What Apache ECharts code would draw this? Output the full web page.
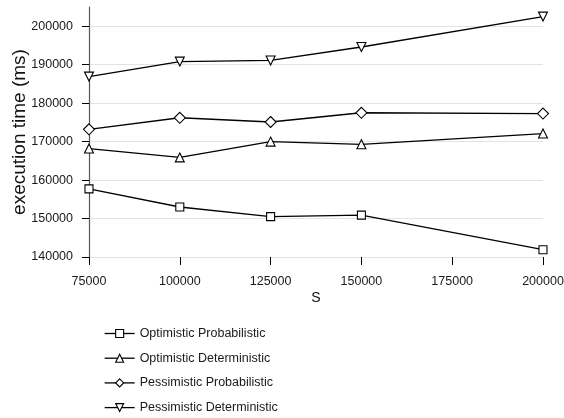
<!DOCTYPE html>
<html>
<head>
<meta charset="utf-8">
<script src="https://cdn.jsdelivr.net/npm/echarts@6/dist/echarts.min.js"></script>
<style>html,body{margin:0;padding:0;background:#fff}#c{width:564px;height:418px}</style>
</head>
<body>
<div id="c"></div>
<script>
const xValues = [75000, 100000, 125000, 150000, 200000];
const xTicks = [75000, 100000, 125000, 150000, 175000, 200000];
const yTicks = [140000, 150000, 160000, 170000, 180000, 190000, 200000];
const optimisticProbabilistic = [157700, 153000, 150500, 150900, 141900];
const optimisticDeterministic = [168200, 165900, 170000, 169300, 172100];
const pessimisticProbabilistic = [173200, 176200, 175100, 177500, 177300];
const pessimisticDeterministic = [186900, 190800, 191100, 194600, 202500];
const seriesNames = ['Optimistic Probabilistic', 'Optimistic Deterministic', 'Pessimistic Probabilistic', 'Pessimistic Deterministic'];
const FONT = '"Liberation Sans", Arial, Helvetica, sans-serif';

function pairs(vals) { return xValues.map((x, i) => [x, vals[i]]); }
function mk(name, vals, symbol, size, rotate) {
  return {
    name, type: 'line', data: pairs(vals), symbol, symbolSize: size, symbolRotate: rotate || 0,
    showAllSymbol: true,
    lineStyle: { color: '#000', width: 1.3 },
    itemStyle: { color: '#fff', borderColor: '#000', borderWidth: 1.1 },
    emphasis: { disabled: true }, animation: false, z: 3
  };
}
const chart = echarts.init(document.getElementById('c'), null, { renderer: 'canvas' });
chart.setOption({
  animation: false,
  backgroundColor: '#fff',
  textStyle: { fontFamily: FONT },
  grid: { left: 89, right: 21, top: 7, bottom: 161, containLabel: false, outerBoundsMode: 'none' },
  xAxis: {
    type: 'value', min: 75000, max: 200000, interval: 25000,
    name: 'S', nameLocation: 'middle', nameGap: 34, nameMoveOverlap: false,
    nameTextStyle: { fontFamily: FONT, fontSize: 14, color: '#111' },
    axisLine: { show: false },
    axisTick: { show: true, length: 8, customValues: xTicks, lineStyle: { color: '#000', width: 1 } },
    axisLabel: { fontFamily: FONT, fontSize: 12.5, color: '#1a1a1a', margin: 18, customValues: xTicks, formatter: v => String(v) },
    splitLine: { show: false }
  },
  yAxis: {
    type: 'value', min: 140000, max: 205000, interval: 10000,
    name: 'execution time (ms)', nameLocation: 'middle', nameGap: 60, nameMoveOverlap: false,
    nameTextStyle: { fontFamily: FONT, fontSize: 19, color: '#111' },
    axisLine: { show: true, onZero: false, lineStyle: { color: '#555', width: 1.2 } },
    axisTick: { show: true, length: 7, customValues: yTicks, lineStyle: { color: '#000', width: 1 } },
    axisLabel: { fontFamily: FONT, fontSize: 12.5, color: '#1a1a1a', margin: 16, customValues: yTicks, formatter: v => String(v) },
    splitLine: { show: true, lineStyle: { color: '#e3e3e3', width: 1.2 } }
  },
  legend: {
    orient: 'vertical', left: 104, top: 327, padding: 0, height: 91, itemGap: 11.7, itemWidth: 30, itemHeight: 10,
    data: seriesNames,
    textStyle: { fontFamily: FONT, fontSize: 12.5, color: '#1a1a1a' },
    itemStyle: { borderWidth: 1.1 },
    lineStyle: { width: 1.3 },
    selectedMode: false
  },
  series: [
    mk(seriesNames[0], optimisticProbabilistic, 'rect', 8),
    mk(seriesNames[1], optimisticDeterministic, 'triangle', 9),
    mk(seriesNames[2], pessimisticProbabilistic, 'diamond', 11),
    mk(seriesNames[3], pessimisticDeterministic, 'triangle', 9, 180)
  ]
});
</script>
</body>
</html>
